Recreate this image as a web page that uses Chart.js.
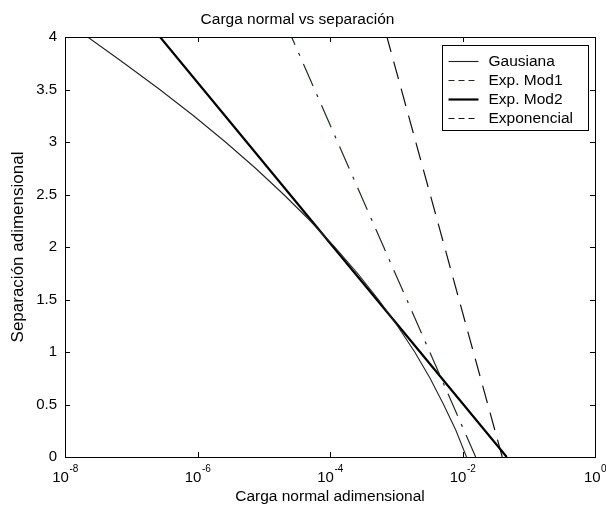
<!DOCTYPE html>
<html>
  <head>
    <meta charset="utf-8" />
    <title>Carga normal vs separación</title>
    <script src="https://cdn.jsdelivr.net/npm/chart.js"></script>
    <style>
      html,
      body {
        margin: 0;
        padding: 0;
        background: #fff;
      }
      #wrap {
        width: 606px;
        height: 506px;
      }
    </style>
  </head>
  <body>
    <div id="wrap"><canvas id="myChart"></canvas></div>

    <script>
      // separación adimensional (eje y) y carga normal adimensional (eje x)
      const sepGaus = [0, 0.25, 0.5, 0.75, 1, 1.25, 1.5, 1.75, 2, 2.25, 2.5, 2.75, 3, 3.25, 3.5, 3.75, 4];
      const cargaGaus = [
        1.15e-2, 8.0e-3, 5.18e-3, 3.24e-3, 1.9e-3, 1.04e-3, 5.37e-4, 2.6e-4,
        1.18e-4, 5.02e-5, 2.0e-5, 7.52e-6, 2.64e-6, 8.71e-7, 2.69e-7, 7.82e-8, 2.2e-8,
      ];
      const sepLin = [0, 1, 2, 3, 4];
      const cargaMod1 = [1.58e-2, 3.2e-3, 6.46e-4, 1.3e-4, 2.63e-5];
      const cargaMod2 = [4.65e-2, 2.29e-3, 1.12e-4, 5.52e-6, 2.72e-7];
      const cargaExp = [3.98e-2, 1.46e-2, 5.37e-3, 1.97e-3, 7.24e-4];

      const xTicks = [1e-8, 1e-6, 1e-4, 1e-2, 1];
      const xTickExp = ["-8", "-6", "-4", "-2", "0"];
      const yTicks = [0, 0.5, 1, 1.5, 2, 2.5, 3, 3.5, 4];
      const yTickLabels = ["0", "0.5", "1", "1.5", "2", "2.5", "3", "3.5", "4"];

      const FONT = "'Liberation Sans', Arial, sans-serif";

      function pts(xs, ys) {
        return ys.map(function (y, i) {
          return { x: xs[i], y: y };
        });
      }

      Chart.defaults.font.family = FONT;
      Chart.defaults.color = "#000";

      const data = {
        datasets: [
          {
            label: "Gausiana",
            data: pts(cargaGaus, sepGaus),
            borderColor: "#222",
            borderWidth: 1.1,
            legendDash: [],
          },
          {
            label: "Exp. Mod1",
            data: pts(cargaMod1, sepLin),
            borderColor: "#1c2e1c",
            borderWidth: 1.2,
            borderDash: [24, 9, 3, 9],
            legendDash: [6, 4],
          },
          {
            label: "Exp. Mod2",
            data: pts(cargaMod2, sepLin),
            borderColor: "#000",
            borderWidth: 2.2,
            legendDash: [],
          },
          {
            label: "Exponencial",
            data: pts(cargaExp, sepLin),
            borderColor: "#111",
            borderWidth: 1.2,
            borderDash: [18, 10],
            legendDash: [6, 4],
          },
        ],
      };

      // caja de ejes con marcas hacia dentro (estilo matlab) + etiquetas 10^n
      const axesBox = {
        id: "axesBox",
        afterDatasetsDraw(chart) {
          const { ctx, chartArea: a, scales } = chart;
          const t = 5;
          ctx.save();
          ctx.strokeStyle = "#000";
          ctx.lineWidth = 1;
          ctx.setLineDash([]);
          ctx.strokeRect(Math.round(a.left) + 0.5, Math.round(a.top) + 0.5, Math.round(a.right - a.left), Math.round(a.bottom - a.top));
          ctx.beginPath();
          scales.x.ticks.forEach(function (tk) {
            const px = Math.round(scales.x.getPixelForValue(tk.value)) + 0.5;
            ctx.moveTo(px, a.bottom);
            ctx.lineTo(px, a.bottom - t);
            ctx.moveTo(px, a.top);
            ctx.lineTo(px, a.top + t);
          });
          scales.y.ticks.forEach(function (tk) {
            const py = Math.round(scales.y.getPixelForValue(tk.value)) + 0.5;
            ctx.moveTo(a.left, py);
            ctx.lineTo(a.left + t, py);
            ctx.moveTo(a.right, py);
            ctx.lineTo(a.right - t, py);
          });
          ctx.stroke();

          // etiquetas del eje x con exponente
          ctx.fillStyle = "#000";
          ctx.textBaseline = "alphabetic";
          ctx.textAlign = "left";
          scales.x.ticks.forEach(function (tk) {
            const px = scales.x.getPixelForValue(tk.value);
            const ex = xTickExp[xTicks.indexOf(tk.value)];
            ctx.font = "15px " + FONT;
            const wb = ctx.measureText("10").width;
            ctx.font = "10px " + FONT;
            const we = ctx.measureText(ex).width;
            const x0 = px - (wb + we) / 2;
            ctx.font = "15px " + FONT;
            ctx.fillText("10", x0, a.bottom + 25);
            ctx.font = "10px " + FONT;
            ctx.fillText(ex, x0 + wb + 0.5, a.bottom + 15);
          });
          ctx.restore();
        },
      };

      // leyenda en recuadro arriba a la derecha
      const boxLegend = {
        id: "boxLegend",
        afterDraw(chart) {
          const { ctx, chartArea: a } = chart;
          const w = 146,
            h = 85;
          const left = Math.round(a.right - 7 - w) + 0.5;
          const top = Math.round(a.top + 8) + 0.5;
          ctx.save();
          ctx.fillStyle = "#fff";
          ctx.fillRect(left, top, w, h);
          ctx.strokeStyle = "#000";
          ctx.lineWidth = 1;
          ctx.strokeRect(left, top, w, h);
          ctx.font = "15.5px " + FONT;
          ctx.textBaseline = "middle";
          ctx.fillStyle = "#000";
          chart.data.datasets.forEach(function (ds, i) {
            const y = Math.round(top + 15 + i * 19.3) + 0.5;
            ctx.beginPath();
            ctx.strokeStyle = ds.borderColor;
            ctx.lineWidth = ds.borderWidth;
            ctx.setLineDash(ds.legendDash);
            ctx.moveTo(left + 6, y);
            ctx.lineTo(left + 36, y);
            ctx.stroke();
            ctx.fillText(ds.label, left + 46, y);
          });
          ctx.restore();
        },
      };

      const config = {
        type: "line",
        data: data,
        options: {
          responsive: true,
          maintainAspectRatio: false,
          animation: false,
          layout: { padding: { left: 0, right: 11, top: 0, bottom: 0 } },
          elements: { point: { radius: 0 }, line: { tension: 0 } },
          plugins: {
            legend: { display: false },
            tooltip: { enabled: false },
            title: {
              display: true,
              text: "Carga normal vs separación",
              font: { size: 15.5, weight: "normal" },
              padding: { top: 10, bottom: 8.4 },
            },
          },
          scales: {
            x: {
              type: "logarithmic",
              min: 1e-8,
              max: 1,
              grid: { display: false, drawTicks: false },
              border: { display: false },
              afterBuildTicks: function (scale) {
                scale.ticks = xTicks.map(function (v) {
                  return { value: v };
                });
              },
              afterFit: function (scale) {
                scale.height = 49;
                scale.paddingLeft = 0;
                scale.paddingRight = 0;
              },
              ticks: { display: false },
              title: {
                display: true,
                text: "Carga normal adimensional",
                font: { size: 15.5 },
                padding: { top: 0, bottom: 0 },
              },
            },
            y: {
              type: "linear",
              min: 0,
              max: 4,
              grid: { display: false, drawTicks: false },
              border: { display: false },
              afterBuildTicks: function (scale) {
                scale.ticks = yTicks.map(function (v) {
                  return { value: v };
                });
              },
              afterFit: function (scale) {
                scale.width = 65;
                scale.paddingTop = 0;
                scale.paddingBottom = 0;
              },
              ticks: {
                font: { size: 15 },
                padding: 8,
                callback: function (value) {
                  return yTickLabels[yTicks.indexOf(value)];
                },
              },
              title: {
                display: true,
                text: "Separación adimensional",
                font: { size: 17 },
                padding: { top: 8, bottom: 0 },
              },
            },
          },
        },
        plugins: [axesBox, boxLegend],
      };

      const myChart = new Chart(document.getElementById("myChart"), config);
    </script>
  </body>
</html>
